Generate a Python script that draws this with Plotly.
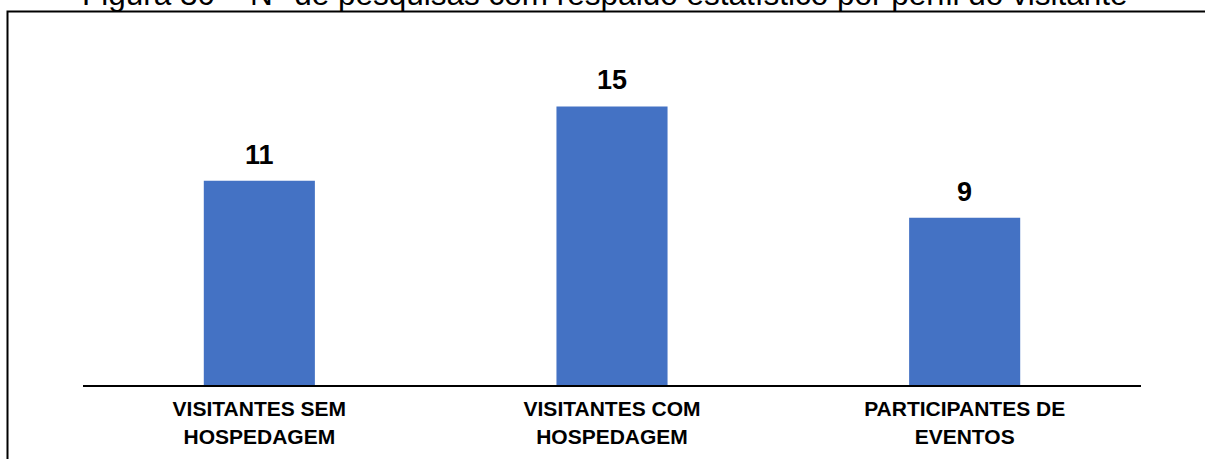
import plotly.graph_objects as go

# Survey counts by visitor profile
categories = ["VISITANTES SEM<br>HOSPEDAGEM", "VISITANTES COM<br>HOSPEDAGEM", "PARTICIPANTES DE<br>EVENTOS"]
counts = [11, 15, 9]
title_text = "Figura 30 – N° de pesquisas com respaldo estatístico por perfil do visitante"

W, H = 1205, 459
ML, MR, MT, MB = 83, 64, 30, 74
PW, PH = W - ML - MR, H - MT - MB
FONT = "Arial, Liberation Sans, sans-serif"
BLUE = "#4472C4"


def px_x(px):
    return (px - ML) / PW


def px_y(py):
    return (H - MB - py) / PH


fig = go.Figure(
    go.Bar(
        x=categories,
        y=counts,
        marker=dict(color=BLUE, line=dict(width=0)),
        hoverinfo="skip",
    )
)

annotations = [
    dict(
        x=c, y=v, xref="x", yref="y", text=f"<b>{v}</b>", showarrow=False,
        yanchor="bottom", yshift=9, font=dict(family=FONT, size=27, color="#000000"),
    )
    for c, v in zip(categories, counts)
]
annotations.append(
    dict(
        x=px_x(605), y=px_y(-6), xref="paper", yref="paper", text=title_text,
        showarrow=False, xanchor="center", yanchor="middle",
        font=dict(family=FONT, size=31.5, color="#000000"),
    )
)

fig.update_layout(
    width=W, height=H,
    margin=dict(l=ML, r=MR, t=MT, b=MB, pad=0, autoexpand=False),
    paper_bgcolor="white", plot_bgcolor="white",
    bargap=0.685,
    showlegend=False,
    annotations=annotations,
    shapes=[
        dict(type="rect", xref="paper", yref="paper",
             x0=px_x(7.5), x1=px_x(1230), y0=px_y(500), y1=px_y(11.5),
             line=dict(color="#000000", width=2), fillcolor="rgba(0,0,0,0)", layer="below"),
    ],
    xaxis=dict(
        showline=True, linecolor="#000000", linewidth=2, showgrid=False, zeroline=False,
        ticks="", tickfont=dict(family=FONT, size=21, color="#000000"),
        ticklabelstandoff=4, automargin=False,
    ),
    yaxis=dict(range=[0, PH / 18.57], visible=False, showgrid=False, zeroline=False,
               automargin=False),
)
fig.update_xaxes(tickvals=categories, ticktext=[f"<b>{c}</b>" for c in categories])

fig.write_html("out.html")
